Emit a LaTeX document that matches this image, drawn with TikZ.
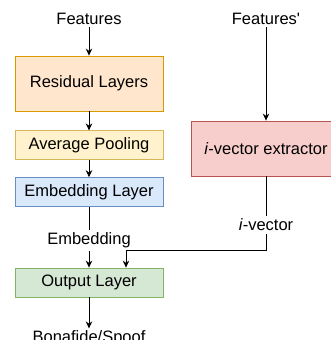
\documentclass[tikz,border=0pt]{standalone}
\usepackage{fontspec}
\setmainfont{Liberation Sans}[Ligatures=TeXOff]
\usetikzlibrary{positioning, arrows.meta}

\definecolor{resfill}{HTML}{FFE6CC}
\definecolor{resdraw}{HTML}{D79B00}
\definecolor{avgfill}{HTML}{FFF2CC}
\definecolor{avgdraw}{HTML}{D6B656}
\definecolor{embfill}{HTML}{DAE8FC}
\definecolor{embdraw}{HTML}{6C8EBF}
\definecolor{outfill}{HTML}{D5E8D4}
\definecolor{outdraw}{HTML}{82B366}
\definecolor{ivxfill}{HTML}{F8CECC}
\definecolor{ivxdraw}{HTML}{B85450}

\begin{document}
\begin{tikzpicture}[
	x=1pt, y=-1pt,
	line width=0.9pt,
	>={Stealth[length=7pt, width=6.5pt]},
	font=\fontsize{16.5}{19}\selectfont,
	% Style for the network blocks
	layer/.style={
		rectangle,
		line width=0.8pt,
		minimum width=148pt,
		minimum height=29pt,
		inner sep=0pt,
		align=center
	},
	% Style for plain text (inputs, outputs)
	txt/.style={
		inner sep=2pt
	},
	% Style for connectors
	flow/.style={->},
	link/.style={-}
	]
	
	\useasboundingbox (0,0) rectangle (330,340);
	
	% --- NODES ---
	
	% Main branch
	\node[txt] (feat) at (89,18.5) {Features};
	\node[layer, draw=resdraw, fill=resfill, minimum height=55pt] (res) at (89,83.5) {Residual Layers};
	\node[layer, draw=avgdraw, fill=avgfill, below=19pt of res] (avg) {Average Pooling};
	\node[layer, draw=embdraw, fill=embfill, below=17pt of avg] (emb) {Embedding Layer};
	\node[txt] (embtxt) at (89,240.5) {Embedding};
	\node[layer, draw=outdraw, fill=outfill] (out) at (89,282.5) {Output Layer};
	\node[txt] (bona) at (89,338.5) {Bonafide/Spoof};
	
	% i-vector branch
	\node[txt] (featp) at (266,19) {Features'};
	\node[layer, draw=ivxdraw, fill=ivxfill, minimum width=150pt, minimum height=55pt] (ivx) at (266,148.5) {\textit{i}-vector extractor};
	\node[txt] (ivec) at (266,225) {\textit{i}-vector};
	\coordinate (join) at (126,250);
	
	% --- EDGES ---
	
	\draw[flow] (feat) -- (res);
	\draw[flow] (res) -- (avg);
	\draw[flow] (avg) -- (emb);
	\draw[link] (emb) -- (embtxt);
	\draw[flow] (embtxt) -- (out);
	\draw[flow] (out) -- (bona);
	
	\draw[flow] (featp) -- (ivx);
	\draw[link] (ivx) -- (ivec);
	\draw[flow] (ivec) |- (join) -- (join |- out.north);
	
\end{tikzpicture}
\end{document}
